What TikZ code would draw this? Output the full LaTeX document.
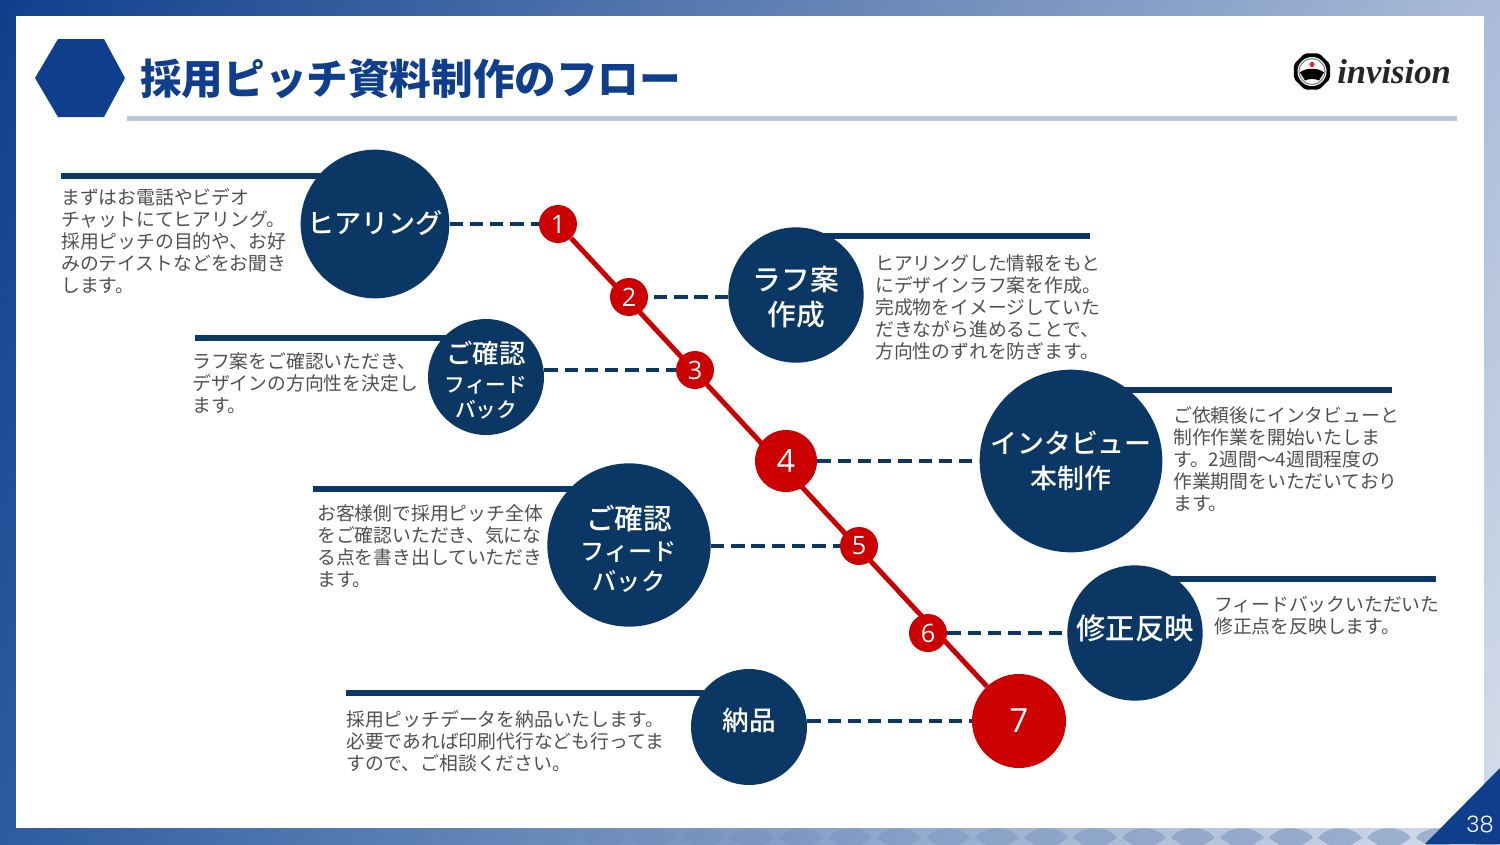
\documentclass[tikz,border=0pt]{standalone}
\usepackage{fontspec}
\usepackage{xcolor}
\usetikzlibrary{calc, shadings, backgrounds}
\usetikzlibrary{positioning, shapes.misc}
\setmainfont{Noto Sans CJK JP}
\newfontfamily\titlefont{Noto Sans CJK JP Black}
\newfontfamily\topicfont{Noto Sans CJK JP Medium}
\newfontfamily\digitfont{Open Sans}
\newfontfamily\pagefont{Poppins Light}
\newfontfamily\logofont{Liberation Serif}
\newcommand{\tsize}[1]{\topicfont\fontsize{#1}{26.25}\selectfont}
\newcommand{\dsize}[1]{\digitfont\fontsize{#1}{#1}\selectfont}
\definecolor{navyblue}{HTML}{0A3764}
\definecolor{titleblue}{HTML}{0F3F8C}
\definecolor{rulegray}{HTML}{B8C6E0}
\definecolor{bodygray}{HTML}{505050}
\definecolor{stepred}{HTML}{CC0000}
\definecolor{frameur}{HTML}{AABCD9}
\definecolor{framell}{HTML}{2D5CA0}
\definecolor{framelr}{HTML}{D6DEEA}
\tikzset{
  topic/.style={circle, fill=navyblue, text=white, align=center, inner sep=-6pt},
  stepdot/.style={circle, fill=stepred, text=white, inner sep=0pt},
  note/.style={anchor=north west, align=left, text=bodygray, inner sep=0pt,
    font=\fontsize{14.1}{16.5}\selectfont},
  bar/.style={navyblue, line width=3.9pt},
  link/.style={navyblue, line width=2.4pt, dash pattern=on 10pt off 5.2pt},
}
\begin{document}
\begin{tikzpicture}[x=0.75pt, y=-0.75pt]
  \useasboundingbox (0,0) rectangle (1500,844);
  % main line
  \node[stepdot, minimum size=28.5pt, font=\dsize{19}] (s1) at (558,224) {1};
  \node[stepdot, minimum size=28.5pt, font=\dsize{19}] (s2) at (629,297) {2};
  \node[stepdot, minimum size=28.5pt, font=\dsize{19}] (s3) at (695,370) {3};
  \node[stepdot, minimum size=46.5pt, font=\dsize{24}] (s4) at (786,461) {4};
  \node[stepdot, minimum size=28.5pt, font=\dsize{19}] (s5) at (859,546) {5};
  \node[stepdot, minimum size=28.5pt, font=\dsize{19}] (s6) at (928,633) {6};
  \node[stepdot, minimum size=70.5pt, font=\dsize{25}] (s7) at (1019,721) {7};
  % topics
  \node[topic, minimum size=111.5pt, font=\tsize{20.3}] (hearing) at (375,224) {\raisebox{3pt}{ヒアリング}};
  \node[topic, minimum size=101.5pt, font=\tsize{21.6}] (rough) at (796,295) {\rule{0pt}{21.5pt}ラフ案\\作成};
  \node[topic, minimum size=87pt, font=\fontsize{10}{18.75}\selectfont] (check1) at (486,377) {\rule{0pt}{21.5pt}{\tsize{19.8}ご確認}\\[3pt]{\tsize{15.5}フィード}\\{\tsize{15.5}バック}};
  \node[topic, minimum size=137pt, font=\tsize{20.2}] (interview) at (1071,461) {インタビュー\\本制作};
  \node[topic, minimum size=122.5pt, font=\fontsize{10}{22.5}\selectfont] (check2) at (629,545) {\rule{0pt}{23.5pt}{\tsize{21.5}ご確認}\\[1pt]{\tsize{18.1}フィード}\\{\tsize{18.1}バック}};
  \node[topic, minimum size=101.5pt, font=\tsize{22}] (revise) at (1135,633) {\raisebox{8.5pt}{修正反映}};
  \node[topic, minimum size=87pt, font=\tsize{20}] (deliver) at (749,727) {\raisebox{11pt}{納品}};
  % notes
  \node[note] (hearingnote) at (61,188) {まずはお電話やビデオ\\チャットにてヒアリング。\\採用ピッチの目的や、お好\\みのテイストなどをお聞き\\します。};
  \node[note] (roughnote) at (875,254) {ヒアリングした情報をもと\\にデザインラフ案を作成。\\完成物をイメージしていた\\だきながら進めることで、\\方向性のずれを防ぎます。};
  \node[note] (check1note) at (192,352) {ラフ案をご確認いただき、\\デザインの方向性を決定し\\ます。};
  \node[note] (interviewnote) at (1173,406) {ご依頼後にインタビューと\\制作作業を開始いたしま\\す。2週間〜4週間程度の\\作業期間をいただいており\\ます。};
  \node[note] (check2note) at (317,504.5) {お客様側で採用ピッチ全体\\をご確認いただき、気にな\\る点を書き出していただき\\ます。};
  \node[note] (revisenote) at (1214,595.5) {フィードバックいただいた\\修正点を反映します。};
  \node[note] (delivernote) at (346,710) {採用ピッチデータを納品いたします。\\必要であれば印刷代行なども行ってま\\すので、ご相談ください。};
  % heading
  \fill[titleblue] (35,78) -- (58,39) -- (104,39) -- (125,78) -- (104,117) -- (58,117) -- cycle;
  \node[anchor=west, inner sep=0pt, text=titleblue, font=\titlefont\fontsize{31.2}{31}\selectfont] (title) at (140,79) {採用ピッチ資料制作のフロー};
  \fill[rulegray] (127,115.5) rectangle (1457,120.5);
  % logo
  \begin{scope}[shift={(1312,71.5)}]
    \fill[black, rounded corners=1.5pt] (22.5:19.5) -- (67.5:19.5) -- (112.5:19.5) -- (157.5:19.5)
      -- (202.5:19.5) -- (247.5:19.5) -- (292.5:19.5) -- (337.5:19.5) -- cycle;
    \fill[white] (0,0) circle (14.5);
    \draw[gray, line width=0.8pt] (0,0) circle (13);
    \fill[stepred!80!white] (0,-7) circle (2.6);
    \fill[black] (-12,1) .. controls (-7,-4) and (7,-4) .. (12,1) -- (7,9) .. controls (3,7) and (-3,7) .. (-7,9) -- cycle;
  \end{scope}
  \node[anchor=west, inner sep=0pt, font=\logofont\itshape\bfseries\fontsize{26}{26}\selectfont, text=black!85] (logotext) at (1337,72) {invision};
  \begin{pgfonlayer}{background}
    % frame
    \shade[upper left=titleblue, upper right=frameur, lower left=framell, lower right=framelr]
      (0,0) rectangle (1500,844);
    \begin{scope}
      \clip (0,828) rectangle (1500,844);
      \foreach \i in {0,...,22} {
        \pgfmathsetmacro{\fanx}{409+49*\i}
        \pgfmathsetmacro{\fanop}{min(0.4,0.02+0.02*\i)}
        \fill[titleblue!70!white, opacity=\fanop] (\fanx-22,838) .. controls (\fanx-13,825) and (\fanx+13,825) .. (\fanx+22,838)
          -- (\fanx+6,848) -- (\fanx-6,848) -- cycle;
      }
    \end{scope}
    \fill[white] (16,16) rectangle (1484,828);
    \fill[titleblue] (1425,844) -- (1500,768) -- (1500,844) -- cycle;
    % bars and links
    \coordinate (b1) at (61,176);
    \coordinate (b2) at (1090,236);
    \coordinate (b3) at (195,338);
    \coordinate (b4) at (1392,390);
    \coordinate (b5) at (313,489);
    \coordinate (b6) at (1436,579);
    \coordinate (b7) at (346,693);
    \draw[bar] (b1) -- (b1 -| hearing.north);
    \draw[bar] (b2) -- (b2 -| rough.north);
    \draw[bar] (b3) -- (b3 -| check1.north);
    \draw[bar] (b4) -- (b4 -| interview.north);
    \draw[bar] (b5) -- (b5 -| check2.north);
    \draw[bar] (b6) -- (b6 -| revise.north);
    \draw[bar] (b7) -- (b7 -| deliver.north);
    \draw[link] (hearing.east) -- (s1.west);
    \draw[link] (rough.west |- s2) -- (s2.east);
    \draw[link] (check1.east |- s3) -- (s3.west);
    \draw[link] (s4.east) -- (interview.west);
    \draw[link] (check2.east |- s5) -- (s5.west);
    \draw[link] (s6.east) -- (revise.west |- s6);
    \draw[link] (deliver.east |- s7) -- (s7.west);
    \draw[stepred, line width=3.7pt] (s1) -- (s7);
  \end{pgfonlayer}
  \node[white, font=\pagefont\fontsize{17}{17}\selectfont] (pagenum) at (1480,824) {38};
\end{tikzpicture}
\end{document}
